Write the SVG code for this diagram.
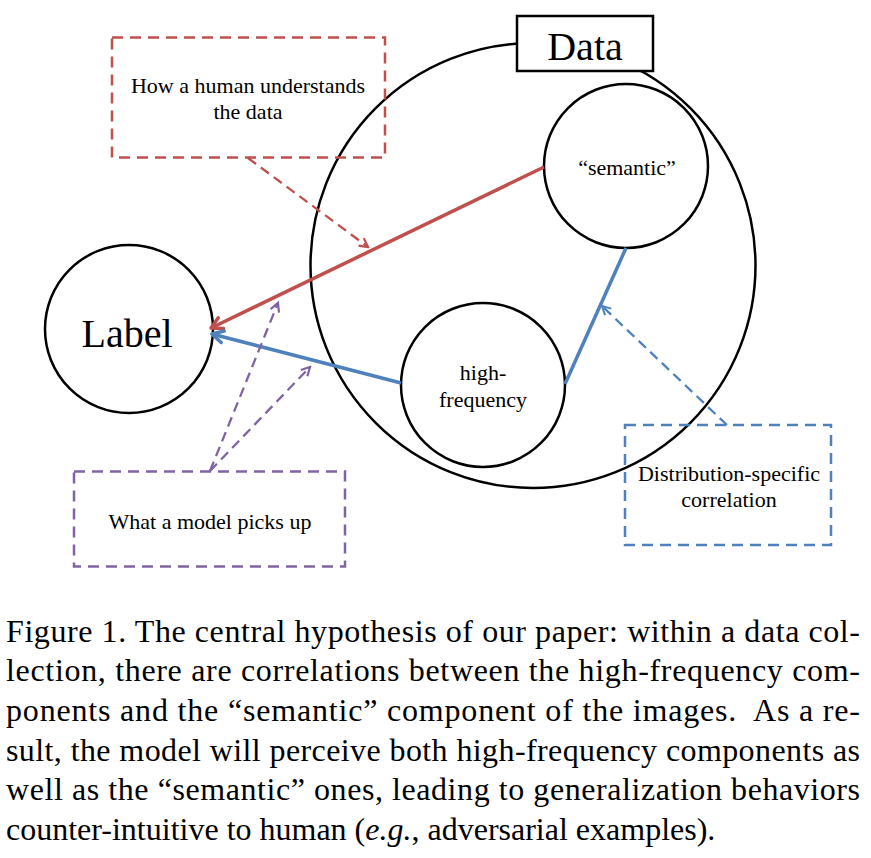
<svg xmlns="http://www.w3.org/2000/svg" width="871" height="858" viewBox="0 0 871 858">
<defs>
<style>
.node{fill:#fff;stroke:#000;stroke-width:2.5}
.t{font-family:"Liberation Serif","Times New Roman",serif;fill:#000;text-anchor:middle}
.s22{font-size:22px}
.cap{font-family:"Liberation Serif","Times New Roman",serif;font-size:32px;fill:#000}
.box{fill:none;stroke-width:2.5;stroke-dasharray:11 7}
.dash{fill:none;stroke-width:2.3;stroke-dasharray:10 6}
.solid{fill:none;stroke-width:3.5}
</style>
<marker id="ahR" viewBox="0 0 16 16" markerWidth="16" markerHeight="16" refX="13" refY="8" orient="auto" markerUnits="userSpaceOnUse"><path d="M2,2 L13,8 L2,14" fill="none" stroke="#C0504D" stroke-width="3.5" stroke-linecap="round" stroke-linejoin="round"/></marker>
<marker id="ahB" viewBox="0 0 16 16" markerWidth="16" markerHeight="16" refX="13" refY="8" orient="auto" markerUnits="userSpaceOnUse"><path d="M2,2 L13,8 L2,14" fill="none" stroke="#4F81BD" stroke-width="3.5" stroke-linecap="round" stroke-linejoin="round"/></marker>
<marker id="dR" viewBox="0 0 12 12" markerWidth="12" markerHeight="12" refX="10" refY="6" orient="auto" markerUnits="userSpaceOnUse"><path d="M1.5,1.5 L10,6 L1.5,10.5" fill="none" stroke="#C0504D" stroke-width="2.2" stroke-dasharray="none"/></marker>
<marker id="dB" viewBox="0 0 12 12" markerWidth="12" markerHeight="12" refX="10" refY="6" orient="auto" markerUnits="userSpaceOnUse"><path d="M1.5,1.5 L10,6 L1.5,10.5" fill="none" stroke="#4F81BD" stroke-width="2" stroke-dasharray="none"/></marker>
<marker id="dP" viewBox="0 0 12 12" markerWidth="12" markerHeight="12" refX="10" refY="6" orient="auto" markerUnits="userSpaceOnUse"><path d="M1.5,1.5 L10,6 L1.5,10.5" fill="none" stroke="#8064A2" stroke-width="2.2" stroke-dasharray="none"/></marker>
</defs>
<rect x="0" y="0" width="871" height="858" fill="#fff"/>

<g id="data">
<circle class="node" cx="533" cy="265.5" r="222.5"/>
<rect x="517" y="16" width="136" height="55" fill="#fff" stroke="#000" stroke-width="2.5"/>
<text class="t" x="585" y="60" font-size="40">Data</text>
</g>

<g id="label">
<circle class="node" cx="129" cy="329" r="84"/>
<text class="t" x="127" y="347" font-size="40">Label</text>
</g>

<g id="semantic">
<circle class="node" cx="626" cy="166" r="82"/>
<text class="t s22" x="627" y="175">“semantic”</text>
</g>

<g id="highfreq">
<circle class="node" cx="483" cy="385" r="82"/>
<text class="t s22" x="483" y="380">high-</text>
<text class="t s22" x="483" y="407">frequency</text>
</g>

<g id="human-box">
<rect class="box" x="112" y="37.5" width="273" height="120" stroke="#C0504D"/>
<text class="t s22" x="248" y="93">How a human understands</text>
<text class="t s22" x="248" y="119">the data</text>
</g>

<g id="model-box">
<rect class="box" x="74" y="471.5" width="271" height="95" stroke="#8064A2"/>
<text class="t s22" x="210" y="529">What a model picks up</text>
</g>

<g id="dist-box">
<rect class="box" x="625" y="425" width="206" height="120" stroke="#4F81BD"/>
<text class="t s22" x="729" y="481">Distribution-specific</text>
<text class="t s22" x="729" y="507">correlation</text>
</g>

<g id="connectors">
<line class="solid" x1="544" y1="167" x2="211" y2="328" stroke="#C0504D" marker-end="url(#ahR)"/>
<line class="solid" x1="401" y1="383" x2="212" y2="334" stroke="#4F81BD" marker-end="url(#ahB)"/>
<line class="solid" x1="565" y1="384" x2="626" y2="248" stroke="#4F81BD"/>
<line class="dash" x1="248" y1="158" x2="368" y2="247" stroke="#C0504D" marker-end="url(#dR)"/>
<line class="dash" x1="727" y1="425" x2="602" y2="306" stroke="#4F81BD" stroke-width="2" marker-end="url(#dB)"/>
<line class="dash" x1="210" y1="471" x2="278" y2="303" stroke="#8064A2" marker-end="url(#dP)"/>
<line class="dash" x1="210" y1="471" x2="310" y2="367" stroke="#8064A2" marker-end="url(#dP)"/>
</g>

<g id="caption">
<text class="cap" x="6" y="641.5" textLength="854" lengthAdjust="spacing">Figure 1. The central hypothesis of our paper: within a data col-</text>
<text class="cap" x="6" y="681.2" textLength="854" lengthAdjust="spacing">lection, there are correlations between the high-frequency com-</text>
<text class="cap" x="6" y="720.9" textLength="854" lengthAdjust="spacing" xml:space="preserve">ponents and the “semantic” component of the images.  As a re-</text>
<text class="cap" x="6" y="760.6" textLength="854" lengthAdjust="spacing">sult, the model will perceive both high-frequency components as</text>
<text class="cap" x="6" y="800.3" textLength="854" lengthAdjust="spacing">well as the “semantic” ones, leading to generalization behaviors</text>
<text class="cap" x="6" y="840">counter-intuitive to human (<tspan font-style="italic">e.g.</tspan>, adversarial examples).</text>
</g>
</svg>
